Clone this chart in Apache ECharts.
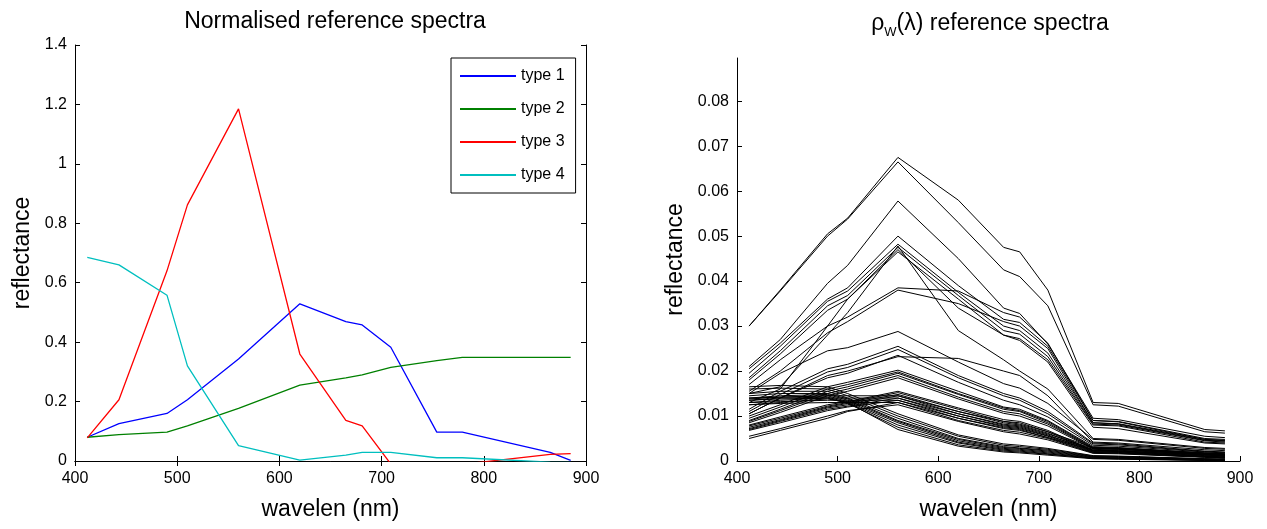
<!DOCTYPE html>
<html>
<head>
<meta charset="utf-8">
<script src="https://cdn.jsdelivr.net/npm/echarts@6/dist/echarts.min.js"></script>
<style>
  html, body { margin: 0; padding: 0; background: #fff; }
  #chart { width: 1267px; height: 529px; }
</style>
</head>
<body>
<div id="chart"></div>
<script>
// MERIS band centres (nm)
const wavelengths = [412, 443, 490, 510, 560, 620, 665, 681, 709, 754, 779, 865, 885];

// left panel: normalised spectra
const typeNames = ['type 1', 'type 2', 'type 3', 'type 4'];
const type1 = [0.080, 0.126, 0.160, 0.206, 0.343, 0.529, 0.469, 0.458, 0.383, 0.097, 0.097, 0.029, 0.002];
const type2 = [0.080, 0.089, 0.097, 0.118, 0.177, 0.255, 0.280, 0.290, 0.315, 0.338, 0.349, 0.349, 0.349];
const type3 = [0.078, 0.206, 0.640, 0.862, 1.185, 0.360, 0.137, 0.118, -0.010, -0.050, -0.011, 0.022, 0.025];
const type4 = [0.685, 0.660, 0.558, 0.320, 0.052, 0.003, 0.020, 0.029, 0.029, 0.011, 0.011, -0.004, -0.005];
const typeColors = ['#0000ff', '#008000', '#ff0000', '#00bfbf'];

// right panel: rho_w reference spectra
const rhoSpectra = [
  [0.0300,0.0380,0.0505,0.0540,0.0675,0.0580,0.0475,0.0465,0.0380,0.0130,0.0128,0.0070,0.0067],
  [0.0300,0.0378,0.0500,0.0538,0.0665,0.0530,0.0425,0.0410,0.0345,0.0125,0.0122,0.0065,0.0062],
  [0.0210,0.0270,0.0395,0.0435,0.0578,0.0450,0.0340,0.0328,0.0260,0.0095,0.0092,0.0055,0.0052],
  [0.0205,0.0262,0.0360,0.0385,0.0500,0.0390,0.0315,0.0308,0.0255,0.0090,0.0088,0.0050,0.0048],
  [0.0195,0.0255,0.0355,0.0378,0.0482,0.0375,0.0300,0.0290,0.0240,0.0085,0.0083,0.0048,0.0045],
  [0.0185,0.0245,0.0345,0.0368,0.0475,0.0368,0.0290,0.0282,0.0232,0.0082,0.0080,0.0045,0.0042],
  [0.0180,0.0238,0.0335,0.0360,0.0465,0.0360,0.0280,0.0272,0.0225,0.0080,0.0078,0.0042,0.0040],
  [0.0150,0.0165,0.0280,0.0330,0.0478,0.0290,0.0225,0.0200,0.0160,0.0050,0.0048,0.0030,0.0028],
  [0.0130,0.0160,0.0300,0.0360,0.0470,0.0340,0.0280,0.0268,0.0220,0.0075,0.0072,0.0040,0.0038],
  [0.0170,0.0225,0.0300,0.0320,0.0385,0.0378,0.0330,0.0320,0.0262,0.0090,0.0087,0.0048,0.0046],
  [0.0155,0.0200,0.0285,0.0310,0.0380,0.0350,0.0310,0.0300,0.0250,0.0085,0.0082,0.0046,0.0044],
  [0.0150,0.0195,0.0245,0.0252,0.0288,0.0220,0.0172,0.0162,0.0128,0.0048,0.0046,0.0028,0.0026],
  [0.0105,0.0140,0.0190,0.0200,0.0232,0.0228,0.0200,0.0190,0.0145,0.0042,0.0040,0.0025,0.0023],
  [0.0115,0.0155,0.0205,0.0215,0.0255,0.0190,0.0150,0.0140,0.0110,0.0040,0.0038,0.0022,0.0020],
  [0.0110,0.0148,0.0198,0.0208,0.0248,0.0185,0.0145,0.0135,0.0105,0.0038,0.0036,0.0021,0.0019],
  [0.0105,0.0140,0.0185,0.0195,0.0235,0.0175,0.0135,0.0125,0.0098,0.0035,0.0033,0.0020,0.0018],
  [0.0100,0.0125,0.0165,0.0175,0.0202,0.0155,0.0120,0.0115,0.0090,0.0032,0.0030,0.0018,0.0016],
  [0.0095,0.0120,0.0160,0.0170,0.0198,0.0150,0.0118,0.0112,0.0088,0.0030,0.0029,0.0017,0.0015],
  [0.0090,0.0115,0.0155,0.0165,0.0195,0.0148,0.0115,0.0110,0.0085,0.0029,0.0028,0.0016,0.0014],
  [0.0088,0.0112,0.0150,0.0160,0.0190,0.0142,0.0110,0.0105,0.0082,0.0028,0.0027,0.0015,0.0013],
  [0.0085,0.0108,0.0145,0.0155,0.0185,0.0138,0.0106,0.0100,0.0078,0.0027,0.0026,0.0014,0.0012],
  [0.0080,0.0098,0.0125,0.0132,0.0155,0.0118,0.0092,0.0088,0.0068,0.0024,0.0023,0.0013,0.0011],
  [0.0078,0.0095,0.0122,0.0130,0.0152,0.0115,0.0088,0.0085,0.0065,0.0023,0.0022,0.0012,0.0010],
  [0.0075,0.0092,0.0120,0.0128,0.0148,0.0110,0.0085,0.0080,0.0062,0.0022,0.0021,0.0011,0.0009],
  [0.0072,0.0090,0.0118,0.0125,0.0145,0.0105,0.0080,0.0076,0.0058,0.0021,0.0020,0.0010,0.0008],
  [0.0070,0.0088,0.0115,0.0122,0.0140,0.0100,0.0076,0.0072,0.0055,0.0020,0.0019,0.0010,0.0008],
  [0.0068,0.0085,0.0112,0.0120,0.0135,0.0095,0.0072,0.0068,0.0052,0.0019,0.0018,0.0009,0.0007],
  [0.0050,0.0068,0.0095,0.0110,0.0130,0.0090,0.0068,0.0064,0.0050,0.0018,0.0017,0.0009,0.0007],
  [0.0055,0.0072,0.0100,0.0112,0.0125,0.0088,0.0065,0.0060,0.0047,0.0017,0.0016,0.0008,0.0006],
  [0.0165,0.0168,0.0165,0.0150,0.0105,0.0058,0.0038,0.0035,0.0028,0.0012,0.0011,0.0005,0.0004],
  [0.0160,0.0162,0.0160,0.0145,0.0100,0.0055,0.0035,0.0032,0.0026,0.0011,0.0010,0.0005,0.0004],
  [0.0150,0.0155,0.0155,0.0140,0.0095,0.0050,0.0032,0.0029,0.0024,0.0010,0.0009,0.0004,0.0003],
  [0.0145,0.0150,0.0150,0.0138,0.0090,0.0048,0.0030,0.0028,0.0022,0.0009,0.0008,0.0004,0.0003],
  [0.0140,0.0145,0.0148,0.0135,0.0088,0.0045,0.0028,0.0026,0.0020,0.0008,0.0007,0.0003,0.0002],
  [0.0138,0.0142,0.0145,0.0132,0.0085,0.0042,0.0026,0.0024,0.0018,0.0007,0.0006,0.0003,0.0002],
  [0.0135,0.0140,0.0142,0.0130,0.0080,0.0040,0.0024,0.0022,0.0016,0.0006,0.0005,0.0002,0.0001],
  [0.0130,0.0135,0.0140,0.0128,0.0075,0.0036,0.0022,0.0020,0.0015,0.0006,0.0005,0.0002,0.0001],
  [0.0125,0.0130,0.0138,0.0130,0.0070,0.0033,0.0020,0.0018,0.0013,0.0005,0.0004,0.0001,0.0001],
  [0.0140,0.0142,0.0145,0.0145,0.0145,0.0110,0.0088,0.0082,0.0065,0.0030,0.0028,0.0018,0.0016],
  [0.0135,0.0138,0.0140,0.0140,0.0140,0.0105,0.0082,0.0078,0.0060,0.0028,0.0026,0.0016,0.0014],
  [0.0130,0.0132,0.0135,0.0135,0.0135,0.0100,0.0078,0.0074,0.0056,0.0026,0.0024,0.0015,0.0013],
  [0.0125,0.0128,0.0130,0.0130,0.0130,0.0095,0.0074,0.0070,0.0052,0.0024,0.0022,0.0014,0.0012]
];

const FONT = 'Liberation Sans';
const axisBlack = { lineStyle: { color: '#000', width: 1 } };
const tickIn = { show: true, inside: true, length: 5, lineStyle: { color: '#000' } };
const labelStyle = { color: '#000', fontSize: 16, fontFamily: FONT };
const nameStyle = { color: '#000', fontSize: 23, fontFamily: FONT };

function pairs(ys) {
  return wavelengths.map((w, i) => [w, ys[i]]);
}

const chart = echarts.init(document.getElementById('chart'));

const typeSeries = [type1, type2, type3, type4].map((ys, i) => ({
  name: typeNames[i],
  type: 'line',
  xAxisIndex: 0,
  yAxisIndex: 0,
  data: pairs(ys),
  symbol: 'none',
  clip: true,
  lineStyle: { color: typeColors[i], width: 1.3 },
  itemStyle: { color: typeColors[i] }
}));

const rhoSeries = rhoSpectra.map((ys) => ({
  type: 'line',
  xAxisIndex: 2,
  yAxisIndex: 2,
  data: pairs(ys),
  symbol: 'none',
  clip: true,
  silent: true,
  lineStyle: { color: '#000', width: 1 }
}));

const option = {
  animation: false,
  backgroundColor: '#fff',
  textStyle: { fontFamily: FONT },
  title: [
    {
      text: 'Normalised reference spectra',
      left: 330, top: 5, textAlign: 'center',
      textStyle: { color: '#000', fontSize: 23, fontWeight: 'normal', fontFamily: FONT }
    },
    {
      text: '{a|ρ}{s|W}{a|(λ) reference spectra}',
      left: 985, top: 5, textAlign: 'center',
      textStyle: {
        fontFamily: FONT,
        fontWeight: 'normal',
        rich: {
          a: { color: '#000', fontSize: 23, fontWeight: 'normal', fontFamily: FONT, lineHeight: 28 },
          s: { color: '#000', fontSize: 13, fontWeight: 'normal', fontFamily: FONT, lineHeight: 28, padding: [16, 0, 0, 0] }
        }
      }
    }
  ],
  legend: {
    data: typeNames,
    orient: 'vertical',
    left: 451, top: 58,
    padding: [10, 11, 10, 9],
    itemGap: 17,
    itemWidth: 56,
    itemHeight: 2,
    icon: 'rect',
    backgroundColor: '#fff',
    borderColor: '#000',
    borderWidth: 1,
    textStyle: { color: '#000', fontSize: 16, fontFamily: FONT }
  },
  grid: [
    { left: 75, right: 681, top: 45, bottom: 68 },
    { left: 737, right: 27, top: 58, bottom: 68 }
  ],
  xAxis: [
    {
      gridIndex: 0, type: 'value', min: 400, max: 900, interval: 100,
      name: 'wavelen (nm)', nameLocation: 'middle', nameGap: 37, nameTextStyle: nameStyle,
      axisLine: axisBlack, axisTick: tickIn, splitLine: { show: false },
      axisLabel: Object.assign({ margin: 10 }, labelStyle)
    },
    {
      gridIndex: 0, type: 'value', min: 400, max: 900, interval: 100, position: 'top',
      axisLine: axisBlack, axisTick: tickIn, splitLine: { show: false },
      axisLabel: { show: false }
    },
    {
      gridIndex: 1, type: 'value', min: 400, max: 900, interval: 100,
      name: 'wavelen (nm)', nameLocation: 'middle', nameGap: 37, nameTextStyle: nameStyle,
      axisLine: axisBlack, axisTick: tickIn, splitLine: { show: false },
      axisLabel: Object.assign({ margin: 10 }, labelStyle)
    }
  ],
  yAxis: [
    {
      gridIndex: 0, type: 'value', min: 0, max: 1.4, interval: 0.2,
      name: 'reflectance', nameLocation: 'middle', nameGap: 41, nameTextStyle: nameStyle,
      axisLine: axisBlack, axisTick: tickIn, splitLine: { show: false },
      axisLabel: Object.assign({ margin: 8 }, labelStyle)
    },
    {
      gridIndex: 0, type: 'value', min: 0, max: 1.4, interval: 0.2, position: 'right',
      axisLine: axisBlack, axisTick: tickIn, splitLine: { show: false },
      axisLabel: { show: false }
    },
    {
      gridIndex: 1, type: 'value', min: 0, max: 0.0896, interval: 0.01,
      name: 'reflectance', nameLocation: 'middle', nameGap: 50, nameTextStyle: nameStyle,
      axisLine: axisBlack, axisTick: tickIn, splitLine: { show: false },
      axisLabel: Object.assign({ margin: 8, showMaxLabel: false }, labelStyle)
    }
  ],
  series: typeSeries.concat(rhoSeries)
};

chart.setOption(option);
</script>
</body>
</html>
